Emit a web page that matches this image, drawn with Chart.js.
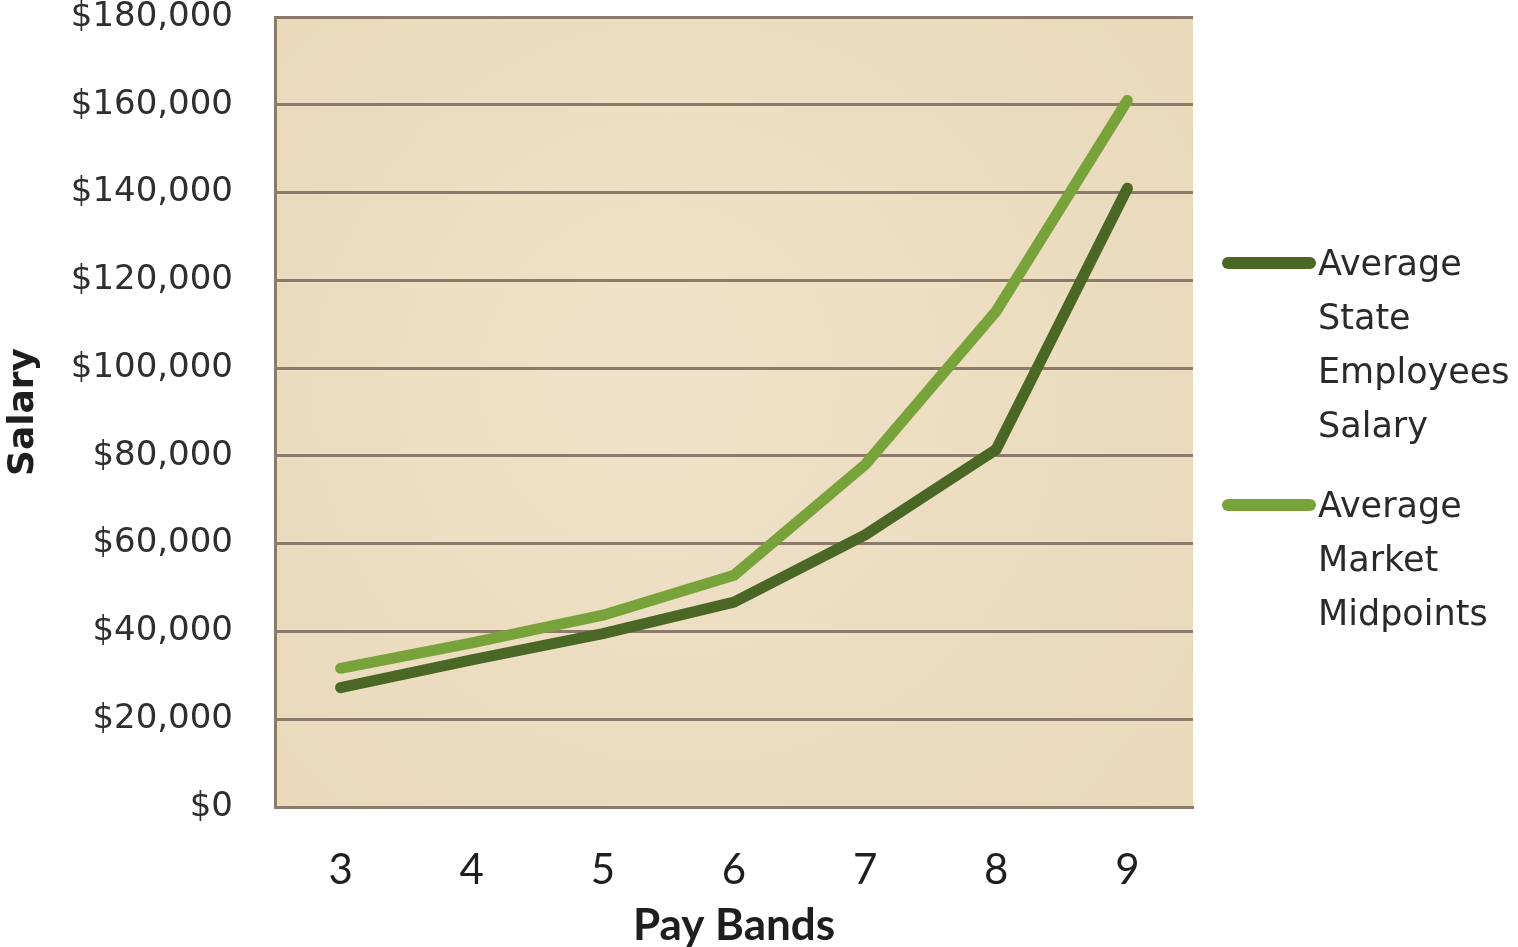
<!DOCTYPE html>
<html>
<head>
<meta charset="utf-8">
<script src="https://cdn.jsdelivr.net/npm/chart.js@4.4.1/dist/chart.umd.min.js"></script>
<style>
  html, body { margin: 0; padding: 0; background: #ffffff; }
  #wrap { position: relative; width: 1518px; height: 947px; }
  #legend { position: absolute; left: 1222px; top: 236px; font-family: 'DejaVu Sans', sans-serif; font-size: 35px; color: #2a2a2a; }
  .item { display: flex; align-items: flex-start; margin-bottom: 26px; }
  .swatch { width: 94px; height: 12px; border-radius: 6px; margin-top: 21px; }
  .label { line-height: 54px; margin-left: 2px; }
</style>
</head>
<body>
<div id="wrap">
  <canvas id="chart" width="1518" height="947"></canvas>
  <div id="legend"></div>
</div>
<script>
// ── Data ────────────────────────────────────
const PAY_BANDS = ['3', '4', '5', '6', '7', '8', '9'];
const STATE_SALARY = [27200, 33500, 39500, 46700, 62000, 81500, 141000];
const MARKET_MIDPOINTS = [31600, 37400, 43700, 52800, 78000, 113000, 161000];

const SERIES_LABELS = [
    ['Average', 'State', 'Employees', 'Salary'],
    ['Average', 'Market', 'Midpoints'],
];

const DARK_GREEN = '#4a6726';
const LIGHT_GREEN = '#78a23a';
const GRID_COLOR = '#8c7b6a';

// ── Plot area background ────────────────────
const plotBackground = {
    id: 'plotBackground',
    beforeDraw(chart) {
        const { ctx, chartArea: a } = chart;
        ctx.save();
        const g = ctx.createRadialGradient(a.left + a.width * 0.4, a.top + a.height * 0.45, 50,
                                           a.left + a.width * 0.5, a.top + a.height * 0.5, a.width * 0.8);
        g.addColorStop(0, '#efe1c7');
        g.addColorStop(1, '#e9d7b8');
        ctx.fillStyle = g;
        ctx.fillRect(a.left, a.top, a.width, a.height);
        ctx.restore();
    },
};

const lineStyle = {
    borderWidth: 11,
    pointRadius: 0,
    tension: 0,
    borderCapStyle: 'round',
    borderJoinStyle: 'round',
    fill: false,
};

const datasets = [
    { label: SERIES_LABELS[0].join(' '), data: STATE_SALARY, borderColor: DARK_GREEN, ...lineStyle },
    { label: SERIES_LABELS[1].join(' '), data: MARKET_MIDPOINTS, borderColor: LIGHT_GREEN, ...lineStyle },
];

new Chart(document.getElementById('chart'), {
    type: 'line',
    data: { labels: PAY_BANDS, datasets },
    options: {
        responsive: false,
        animation: false,
        layout: { padding: { top: 17, right: 325, left: 0, bottom: 0 } },
        plugins: { legend: { display: false }, tooltip: { enabled: false } },
        scales: {
            x: {
                offset: true,
                grid: { display: false },
                border: { display: true, color: GRID_COLOR, width: 3 },
                ticks: { color: '#1e1e1e', font: { family: 'Lato', size: 42 }, padding: 30 },
                title: { display: true, text: 'Pay Bands', color: '#1e1e1e',
                         font: { family: 'Lato', size: 44, weight: 'bold' }, padding: { top: 0, bottom: -5 } },
                afterFit(scale) { scale.height = 140; },
            },
            y: {
                min: 0, max: 180000,
                grid: { color: GRID_COLOR, lineWidth: 3, drawTicks: false },
                border: { display: true, color: GRID_COLOR, width: 3 },
                ticks: {
                    stepSize: 20000, color: '#2e2e2e', font: { family: 'DejaVu Sans', size: 34 }, padding: 42,
                    callback: v => '$' + v.toLocaleString('en-US'),
                },
                title: { display: true, text: 'Salary', color: '#1e1e1e',
                         font: { family: 'DejaVu Sans', size: 36, weight: 'bold' }, padding: { top: 2, bottom: 0 } },
                afterFit(scale) {
                    scale.width = 275;
                    scale.paddingTop = 0;
                    scale.paddingBottom = 0;
                },
            },
        },
    },
    plugins: [plotBackground],
});

// ── HTML legend ─────────────────────────────
const legendEl = document.getElementById('legend');
datasets.forEach((ds, i) => {
    const item = document.createElement('div');
    item.className = 'item';
    const sw = document.createElement('div');
    sw.className = 'swatch';
    sw.style.background = ds.borderColor;
    const lab = document.createElement('div');
    lab.className = 'label';
    lab.innerHTML = SERIES_LABELS[i].join('<br>');
    item.appendChild(sw);
    item.appendChild(lab);
    legendEl.appendChild(item);
});
</script>
</body>
</html>
